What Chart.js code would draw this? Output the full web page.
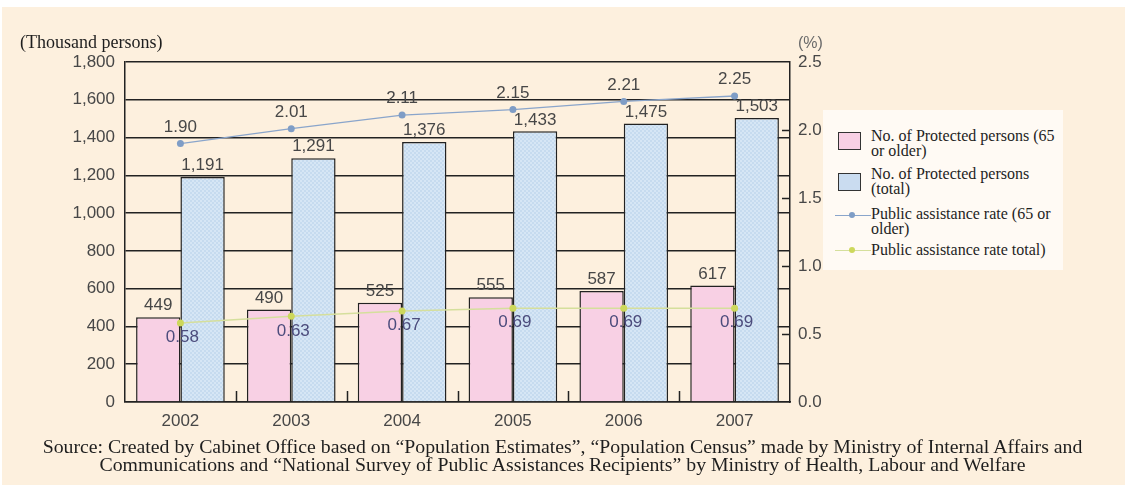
<!DOCTYPE html>
<html>
<head>
<meta charset="utf-8">
<script src="https://cdn.jsdelivr.net/npm/chart.js@4.4.1/dist/chart.umd.min.js"></script>
<style>
  html, body { margin: 0; padding: 0; background: #ffffff; }
  #page { position: absolute; left: 2px; top: 7px; width: 1123px; height: 478px; background: #fdf0de; }
  #chart { position: absolute; left: 0; top: 0; }
  .serif { font-family: "Liberation Serif", "Times New Roman", Times, serif; }
  #unitLeft { position: absolute; left: 20px; top: 32px; font-size: 18px; color: #1e1e1e; white-space: nowrap; }
  #unitRight { position: absolute; left: 798px; top: 34px; font-family: "Liberation Sans", Arial, sans-serif; font-size: 16px; color: #6a6a6a; }
  #legend { position: absolute; left: 823px; top: 110px; width: 240px; height: 160px; background: #fffaf4; }
  .txt { position: absolute; left: 48px; width: 190px; font-size: 16px; line-height: 14.5px; color: #1e1e1e; }
  .swatch { position: absolute; left: 15px; width: 23px; height: 18px; border: 1.5px solid #333; box-sizing: border-box; }
  .lineKey { position: absolute; left: 12px; width: 36px; height: 0; }
  .lineKey .dot { position: absolute; left: 14px; top: -4px; width: 6px; height: 6px; border-radius: 50%; }
  #source { position: absolute; left: 0; top: 437px; width: 1125px; text-align: center; line-height: 18px; color: #1e1e1e; }
  #source span { white-space: nowrap; }
</style>
</head>
<body>
<div id="page"></div>
<canvas id="chart" width="1125" height="485"></canvas>
<div class="serif" id="unitLeft">(Thousand persons)</div>
<div id="unitRight">(%)</div>
<div id="legend"></div>
<div class="serif" id="source"></div>

<script>
// Years on the category axis
const years = ['2002', '2003', '2004', '2005', '2006', '2007'];

// Protected persons, thousands
const protectedElderly = [449, 490, 525, 555, 587, 617];
const protectedTotal = [1191, 1291, 1376, 1433, 1475, 1503];

// Public assistance rates, %
const rateElderly = [1.90, 2.01, 2.11, 2.15, 2.21, 2.25];
const rateTotal = [0.58, 0.63, 0.67, 0.69, 0.69, 0.69];

// Axis tick values
const leftTicks = [0, 200, 400, 600, 800, 1000, 1200, 1400, 1600, 1800];
const rightTicks = [0.0, 0.5, 1.0, 1.5, 2.0, 2.5];

const seriesNames = [
  'No. of Protected persons (65 or older)',
  'No. of Protected persons (total)',
  'Public assistance rate (65 or older)',
  'Public assistance rate total)'
];

const sourceLines = [
  'Source: Created by Cabinet Office based on \u201cPopulation Estimates\u201d, \u201cPopulation Census\u201d made by Ministry of Internal Affairs and',
  'Communications and \u201cNational Survey of Public Assistances Recipients\u201d by Ministry of Health, Labour and Welfare'
];

const INK = '#222222';
const LABEL = '#474747';
const SANS = '"Liberation Sans", Arial, sans-serif';

// Light blue checkered fill for the total bars
function checkerFill() {
  const c = document.createElement('canvas');
  c.width = 4; c.height = 4;
  const g = c.getContext('2d');
  g.fillStyle = '#c6dbef';
  g.fillRect(0, 0, 4, 4);
  g.fillStyle = '#d6e6f5';
  g.fillRect(0, 0, 2, 2);
  g.fillRect(2, 2, 2, 2);
  return g.createPattern(c, 'repeat');
}
const blueFill = checkerFill();
const pinkFill = '#f8d0e4';

// Short inward ticks on the bottom axis (between years) and the right axis
const innerTicks = {
  id: 'innerTicks',
  afterDatasetsDraw(chart) {
    const { ctx, chartArea, scales } = chart;
    ctx.save();
    ctx.strokeStyle = INK;
    ctx.lineWidth = 1.5;
    ctx.beginPath();
    for (let i = 0; i < years.length - 1; i++) {
      const x = Math.round((scales.x.getPixelForValue(i) + scales.x.getPixelForValue(i + 1)) / 2) + 0.5;
      ctx.moveTo(x, chartArea.bottom);
      ctx.lineTo(x, chartArea.bottom - 11);
    }
    rightTicks.forEach(v => {
      if (v <= 0 || v >= 2.5) return;
      const y = Math.round(scales.y1.getPixelForValue(v)) + 0.5;
      ctx.moveTo(chartArea.right - 8, y);
      ctx.lineTo(chartArea.right, y);
    });
    ctx.stroke();
    ctx.restore();
  }
};

// Value labels over bars and next to line points
const valueLabels = {
  id: 'valueLabels',
  afterDatasetsDraw(chart) {
    const { ctx } = chart;
    ctx.save();
    ctx.font = '17px ' + SANS;
    ctx.textAlign = 'center';
    chart.data.datasets.forEach((ds, di) => {
      const meta = chart.getDatasetMeta(di);
      meta.data.forEach((el, i) => {
        const v = ds.data[i];
        if (ds.type === 'bar') {
          ctx.fillStyle = LABEL;
          ctx.textBaseline = 'bottom';
          ctx.fillText(v.toLocaleString('en-US'), el.x, el.y - 3);
        } else if (ds.labelSide === 'above') {
          ctx.fillStyle = LABEL;
          ctx.textBaseline = 'bottom';
          ctx.fillText(v.toFixed(2), el.x, el.y - 8);
        } else {
          ctx.fillStyle = '#4c4c7c';
          ctx.textBaseline = 'top';
          ctx.fillText(v.toFixed(2), el.x + 2, el.y + 6);
        }
      });
    });
    ctx.restore();
  }
};

const chart = new Chart(document.getElementById('chart'), {
  data: {
    labels: years,
    datasets: [
      {
        type: 'line', label: seriesNames[2], data: rateElderly, yAxisID: 'y1', order: 0,
        borderColor: '#8aa5cb', borderWidth: 1.3, pointBackgroundColor: '#7f9dc6',
        pointBorderWidth: 0, pointRadius: 3.5, labelSide: 'above'
      },
      {
        type: 'line', label: seriesNames[3], data: rateTotal, yAxisID: 'y1', order: 0,
        borderColor: '#d5df9c', borderWidth: 1.5, pointBackgroundColor: '#cdd85c',
        pointBorderWidth: 0, pointRadius: 3.5, labelSide: 'below'
      },
      {
        type: 'bar', label: seriesNames[0], data: protectedElderly, yAxisID: 'y', order: 1,
        backgroundColor: pinkFill, borderColor: INK, borderWidth: 1.5,
        categoryPercentage: 0.8, barPercentage: 1.0
      },
      {
        type: 'bar', label: seriesNames[1], data: protectedTotal, yAxisID: 'y', order: 1,
        backgroundColor: blueFill, borderColor: INK, borderWidth: 1.5,
        categoryPercentage: 0.8, barPercentage: 1.0
      }
    ]
  },
  options: {
    responsive: false,
    animation: false,
    layout: { padding: { left: 0, right: 290, top: 62, bottom: 53 } },
    plugins: { legend: { display: false }, tooltip: { enabled: false } },
    scales: {
      x: {
        offset: true,
        grid: { display: false },
        border: { display: true, color: INK, width: 1.5 },
        ticks: { color: LABEL, font: { family: SANS, size: 17 }, padding: 1 },
        afterFit(s) { s.height = 30; }
      },
      y: {
        position: 'left',
        min: 0, max: 1800,
        afterBuildTicks(s) { s.ticks = leftTicks.map(v => ({ value: v })); },
        grid: { color: INK, lineWidth: 1.5, drawTicks: false },
        border: { display: true, color: INK, width: 1.5 },
        ticks: {
          color: LABEL, font: { family: SANS, size: 17 }, padding: 10,
          callback: v => v.toLocaleString('en-US')
        },
        afterFit(s) { s.width = 125; }
      },
      y1: {
        position: 'right',
        min: 0, max: 2.5,
        afterBuildTicks(s) { s.ticks = rightTicks.map(v => ({ value: v })); },
        grid: { drawOnChartArea: false, drawTicks: false },
        border: { display: true, color: INK, width: 1.5 },
        ticks: {
          color: LABEL, font: { family: SANS, size: 17 }, padding: 8,
          callback: v => v.toFixed(1)
        },
        afterFit(s) { s.width = 45; }
      }
    }
  },
  plugins: [innerTicks, valueLabels]
});

// Legend built from the chart's own datasets
(function buildLegend() {
  const box = document.getElementById('legend');
  const order = [2, 3, 0, 1];
  const keyTops = [22, 63, 105, 140];
  const textTops = [19, 57, 97, 133];
  order.forEach((di, k) => {
    const ds = chart.data.datasets[di];
    if (ds.type === 'bar') {
      const sw = document.createElement('div');
      sw.className = 'swatch';
      sw.style.top = keyTops[k] + 'px';
      sw.style.background = k === 0 ? pinkFill : '#cadcf0';
      box.appendChild(sw);
    } else {
      const ln = document.createElement('div');
      ln.className = 'lineKey';
      ln.style.top = keyTops[k] + 'px';
      ln.style.borderTop = '1.5px solid ' + ds.borderColor;
      const dot = document.createElement('div');
      dot.className = 'dot';
      dot.style.background = ds.pointBackgroundColor;
      ln.appendChild(dot);
      box.appendChild(ln);
    }
    const t = document.createElement('div');
    t.className = 'txt serif';
    t.style.top = textTops[k] + 'px';
    t.textContent = ds.label;
    box.appendChild(t);
  });
})();

// Source note, sized so the first line spans the plot block
(function buildSource() {
  const src = document.getElementById('source');
  src.style.fontSize = '16px';
  const spans = sourceLines.map(line => {
    const s = document.createElement('span');
    s.textContent = line;
    src.appendChild(s);
    src.appendChild(document.createElement('br'));
    return s;
  });
  const w = spans[0].getBoundingClientRect().width;
  if (w > 0) src.style.fontSize = (16 * 1040 / w).toFixed(2) + 'px';
})();
</script>
</body>
</html>
